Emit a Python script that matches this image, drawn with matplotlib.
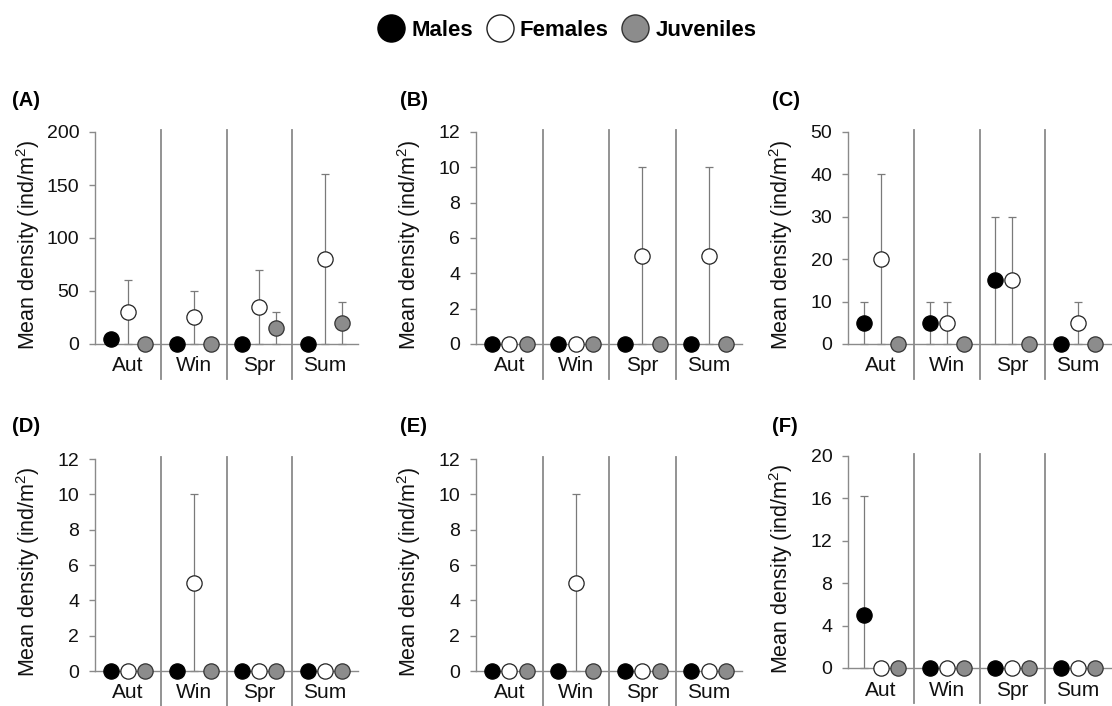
import matplotlib
matplotlib.use("Agg")
import matplotlib.pyplot as plt
from matplotlib.lines import Line2D
import numpy as np

plt.rcParams['font.family'] = ['Liberation Sans', 'DejaVu Sans']
plt.rcParams['mathtext.fontset'] = 'custom'
plt.rcParams['mathtext.rm'] = 'Liberation Sans'

seasons = ["Aut", "Win", "Spr", "Sum"]
groups = ["Males", "Females", "Juveniles"]
panel_labels = ["(A)", "(B)", "(C)", "(D)", "(E)", "(F)"]

# means and error (SD) for each panel: Males, Females, Juveniles
A_males = [5, 0, 0, 0];      A_males_err = [0, 0, 0, 0]
A_females = [30, 25, 35, 80]; A_females_err = [30, 25, 35, 80]
A_juv = [0, 0, 15, 20];      A_juv_err = [0, 0, 15, 20]

B_males = [0, 0, 0, 0];      B_males_err = [0, 0, 0, 0]
B_females = [0, 0, 5, 5];    B_females_err = [0, 0, 5, 5]
B_juv = [0, 0, 0, 0];        B_juv_err = [0, 0, 0, 0]

C_males = [5, 5, 15, 0];     C_males_err = [5, 5, 15, 0]
C_females = [20, 5, 15, 5];  C_females_err = [20, 5, 15, 5]
C_juv = [0, 0, 0, 0];        C_juv_err = [0, 0, 0, 0]

D_males = [0, 0, 0, 0];      D_males_err = [0, 0, 0, 0]
D_females = [0, 5, 0, 0];    D_females_err = [0, 5, 0, 0]
D_juv = [0, 0, 0, 0];        D_juv_err = [0, 0, 0, 0]

E_males = [0, 0, 0, 0];      E_males_err = [0, 0, 0, 0]
E_females = [0, 5, 0, 0];    E_females_err = [0, 5, 0, 0]
E_juv = [0, 0, 0, 0];        E_juv_err = [0, 0, 0, 0]

F_males = [5, 0, 0, 0];      F_males_err = [11.2, 0, 0, 0]
F_females = [0, 0, 0, 0];    F_females_err = [0, 0, 0, 0]
F_juv = [0, 0, 0, 0];        F_juv_err = [0, 0, 0, 0]

y_max = [200, 12, 50, 12, 12, 20]
y_ticks = [[0, 50, 100, 150, 200], [0, 2, 4, 6, 8, 10, 12], [0, 10, 20, 30, 40, 50],
           [0, 2, 4, 6, 8, 10, 12], [0, 2, 4, 6, 8, 10, 12], [0, 4, 8, 12, 16, 20]]

panels = [
    [(A_males, A_males_err), (A_females, A_females_err), (A_juv, A_juv_err)],
    [(B_males, B_males_err), (B_females, B_females_err), (B_juv, B_juv_err)],
    [(C_males, C_males_err), (C_females, C_females_err), (C_juv, C_juv_err)],
    [(D_males, D_males_err), (D_females, D_females_err), (D_juv, D_juv_err)],
    [(E_males, E_males_err), (E_females, E_females_err), (E_juv, E_juv_err)],
    [(F_males, F_males_err), (F_females, F_females_err), (F_juv, F_juv_err)],
]

face_colors = ["#000000", "#ffffff", "#8c8c8c"]
edge_colors = ["#000000", "#222222", "#333333"]
offsets = [-0.26, 0.0, 0.26]
axis_grey = "#8a8a8a"
err_grey = "#7a7a7a"

W, H = 1112, 706
fig = plt.figure(figsize=(W / 100, H / 100), dpi=100)

# axes placement in pixels: (left, zero_y, right, top_y)
boxes = [(95, 344, 358, 132), (476, 344, 742, 132), (848, 344, 1111, 132),
         (95, 671, 358, 459), (476, 671, 742, 459), (848, 668, 1111, 456)]
label_pos = [(12, 100), (400, 100), (772, 100), (12, 427), (400, 427), (772, 427)]

x = np.arange(len(seasons)) + 0.5
for i, (box, data) in enumerate(zip(boxes, panels)):
    l, b, r, t = box
    ax = fig.add_axes([l / W, 1 - b / H, (r - l) / W, (b - t) / H])
    ax.set_xlim(0, len(seasons))
    ax.set_ylim(0, y_max[i])
    for s in ["top", "right"]:
        ax.spines[s].set_visible(False)
    for s in ["left", "bottom"]:
        ax.spines[s].set_color(axis_grey)
        ax.spines[s].set_linewidth(1.0)
    ax.set_yticks(y_ticks[i])
    ax.tick_params(axis="y", colors=axis_grey, length=4.3, width=1.0, labelsize=14,
                   labelcolor="#111111", pad=7)
    ax.set_xticks(x)
    ax.set_xticklabels(seasons)
    ax.tick_params(axis="x", length=0, labelsize=15, labelcolor="#111111", pad=9)
    ax.set_ylabel("Mean density (ind/m$^2$)", fontsize=15.5, color="#111111")
    ax.yaxis.set_label_coords(-0.2, 0.47)

    # season separators
    for k in range(1, len(seasons)):
        ax.plot([k, k], [-0.165, 1.01], transform=ax.get_xaxis_transform(),
                color=axis_grey, lw=1.3, clip_on=False, zorder=1)

    for g, (vals, errs) in enumerate(data):
        xs = x + offsets[g]
        for xi, v, e in zip(xs, vals, errs):
            if e > 0:
                lower = min(v, e)
                ax.errorbar([xi], [v], yerr=[[lower], [e]], fmt="none",
                            ecolor=err_grey, elinewidth=0.9, capsize=2.7,
                            capthick=0.9, zorder=2, clip_on=False)
        ax.plot(xs, vals, linestyle="none", marker="o", markersize=11,
                markerfacecolor=face_colors[g], markeredgecolor=edge_colors[g],
                markeredgewidth=0.9, zorder=4, clip_on=False)

    fig.text(label_pos[i][0] / W, 1 - label_pos[i][1] / H, panel_labels[i],
             fontsize=14.5, fontweight="bold", va="center", ha="left")

handles = [Line2D([], [], linestyle="none", marker="o", markersize=19.5,
                  markerfacecolor=face_colors[g], markeredgecolor=edge_colors[g],
                  markeredgewidth=1.0) for g in range(3)]
fig.legend(handles, groups, loc="center", bbox_to_anchor=(0.51, 1 - 30 / H),
           ncol=3, frameon=False, prop={"weight": "bold", "size": 16},
           handletextpad=0.3, columnspacing=0.6, handlelength=1.2)

fig.savefig("out.png", dpi=100)
